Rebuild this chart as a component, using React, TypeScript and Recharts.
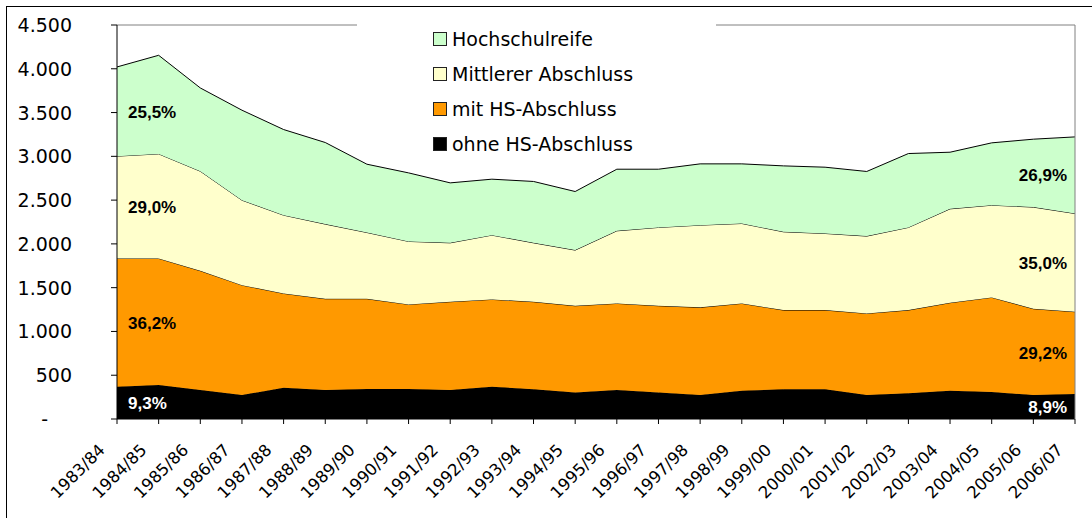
import React from "react";
import {
  AreaChart,
  Area,
  XAxis,
  YAxis,
  ReferenceLine,
  LabelList,
  Legend,
} from "recharts";

const categories = [
  "1983/84", "1984/85", "1985/86", "1986/87", "1987/88", "1988/89",
  "1989/90", "1990/91", "1991/92", "1992/93", "1993/94", "1994/95",
  "1995/96", "1996/97", "1997/98", "1998/99", "1999/00", "2000/01",
  "2001/02", "2002/03", "2003/04", "2004/05", "2005/06", "2006/07",
];

// values in thousands, stacked from bottom to top
const ohneHS = [
  369, 388, 331, 274, 357, 331, 342, 342, 331, 369, 339, 304,
  331, 304, 274, 323, 339, 339, 274, 293, 323, 308, 274, 285,
];
const mitHS = [
  1465, 1446, 1362, 1255, 1077, 1042, 1031, 967, 1008, 997, 1000, 989,
  989, 989, 1001, 997, 905, 905, 932, 951, 1005, 1081, 985, 940,
];
const mittlerer = [
  1168, 1194, 1137, 970, 894, 853, 757, 719, 673, 734, 673, 636,
  829, 895, 939, 913, 894, 875, 883, 944, 1072, 1053, 1161, 1122,
];
const hochschulreife = [
  1019, 1126, 951, 1028, 978, 932, 780, 783, 685, 639, 701, 669,
  704, 665, 700, 681, 753, 757, 738, 844, 647, 712, 776, 875,
];

const yTicks = [0, 500, 1000, 1500, 2000, 2500, 3000, 3500, 4000, 4500];

// share labels at the first and last year
const ohneShare = ["9,3%", "8,9%"];
const mitShare = ["36,2%", "29,2%"];
const mittlererShare = ["29,0%", "35,0%"];
const hochschulShare = ["25,5%", "26,9%"];

const series = [
  { key: "ohne", name: "ohne HS-Abschluss", values: ohneHS, fill: "#000000", shares: ohneShare, text: "#ffffff" },
  { key: "mit", name: "mit HS-Abschluss", values: mitHS, fill: "#FF9900", shares: mitShare, text: "#000000" },
  { key: "mittel", name: "Mittlerer Abschluss", values: mittlerer, fill: "#FFFFCC", shares: mittlererShare, text: "#000000" },
  { key: "hoch", name: "Hochschulreife", values: hochschulreife, fill: "#CCFFCC", shares: hochschulShare, text: "#000000" },
];

const data = categories.map((cat, i) => ({
  cat,
  ohne: ohneHS[i],
  mit: mitHS[i],
  mittel: mittlerer[i],
  hoch: hochschulreife[i],
}));

const FONT = "'DejaVu Sans', sans-serif";
const LABEL_FONT = "'Liberation Sans', Arial, sans-serif";
const WIDTH = 1092;
const HEIGHT = 518;
const PLOT_TOP = 25;
const PLOT_BOTTOM = 419;
const Y_MAX = yTicks[yTicks.length - 1];
const pxPerUnit = (PLOT_BOTTOM - PLOT_TOP) / Y_MAX;

const fmt = (v: number) =>
  v === 0 ? "-" : v.toLocaleString("de-DE");

function YTick(props: any) {
  const { x, y, payload } = props;
  const v = payload.value as number;
  return (
    <text
      x={v === 0 ? x - 24 : x}
      y={y}
      dy={7}
      textAnchor="end"
      fill="#000"
      style={{ fontFamily: FONT, fontSize: 19 }}
    >
      {fmt(v)}
    </text>
  );
}

function XTick(props: any) {
  const { x, y, payload } = props;
  return (
    <g transform={`translate(${x - 11},${y + 25})`}>
      <text
        textAnchor="end"
        transform="rotate(-45)"
        fill="#000"
        style={{ fontFamily: FONT, fontSize: 16.5 }}
      >
        {payload.value}
      </text>
    </g>
  );
}

const shareLabel =
  (values: number[], shares: string[], color: string) => (props: any) => {
    const { index } = props;
    const last = values.length - 1;
    if (index !== 0 && index !== last) return null;
    const vb = props.viewBox || {};
    const x = props.x ?? vb.x;
    const y = props.y ?? vb.y;
    const mid = y + (values[index] / 2) * pxPerUnit;
    const first = index === 0;
    return (
      <text
        x={first ? x + 11 : x - 8}
        y={mid}
        dy={6}
        textAnchor={first ? "start" : "end"}
        fill={color}
        style={{ fontFamily: LABEL_FONT, fontSize: 17, fontWeight: "bold" }}
      >
        {first ? shares[0] : shares[1]}
      </text>
    );
  };

function LegendBox() {
  const items = [...series].reverse();
  return (
    <div
      style={{
        background: "#fff",
        width: 359,
        height: 148,
        paddingTop: 14,
        boxSizing: "border-box",
      }}
    >
      {items.map((s) => (
        <div
          key={s.key}
          style={{
            display: "flex",
            alignItems: "center",
            height: 35,
            paddingLeft: 76,
          }}
        >
          <span
            style={{
              display: "inline-block",
              width: 14,
              height: 14,
              boxSizing: "border-box",
              border: "1px solid #222",
              background: s.fill,
              marginRight: 5,
            }}
          />
          <span style={{ fontFamily: FONT, fontSize: 19, color: "#000" }}>
            {s.name}
          </span>
        </div>
      ))}
    </div>
  );
}

export default function App() {
  return (
    <div
      style={{
        position: "absolute",
        left: 0,
        top: 0,
        width: WIDTH,
        height: HEIGHT,
        overflow: "hidden",
        background: "#fff",
      }}
    >
      <div
        style={{
          position: "absolute",
          left: 6,
          top: 6,
          width: WIDTH,
          height: HEIGHT,
          borderTop: "1px solid #000",
          borderLeft: "1px solid #000",
        }}
      />
      <AreaChart
        width={WIDTH}
        height={HEIGHT}
        data={data}
        margin={{ top: PLOT_TOP, right: 0, bottom: 0, left: 0 }}
      >
        <XAxis
          dataKey="cat"
          interval={0}
          height={HEIGHT - PLOT_BOTTOM}
          tickSize={5}
          axisLine={{ stroke: "#000" }}
          tickLine={{ stroke: "#000" }}
          tick={<XTick />}
        />
        <YAxis
          yAxisId="left"
          width={117}
          domain={[0, Y_MAX]}
          ticks={yTicks}
          tickSize={6}
          tickMargin={39}
          axisLine={{ stroke: "#000" }}
          tickLine={{ stroke: "#000" }}
          tick={<YTick />}
        />
        <YAxis
          yAxisId="right"
          orientation="right"
          width={17}
          domain={[0, Y_MAX]}
          tick={false}
          tickLine={false}
          axisLine={{ stroke: "#808080" }}
        />
        <ReferenceLine yAxisId="left" y={Y_MAX} stroke="#808080" />
        {series.map((s) => (
          <Area
            key={s.key}
            yAxisId="left"
            type="linear"
            dataKey={s.key}
            name={s.name}
            stackId="1"
            stroke="#000"
            strokeWidth={1}
            fill={s.fill}
            fillOpacity={1}
            isAnimationActive={false}
          >
            <LabelList
              dataKey={s.key}
              content={shareLabel(s.values, s.shares, s.text)}
            />
          </Area>
        ))}
        <Legend
          layout="vertical"
          align="center"
          verticalAlign="middle"
          wrapperStyle={{ left: 357, top: 7, width: 359, height: 148 }}
          content={() => <LegendBox />}
        />
      </AreaChart>
    </div>
  );
}
